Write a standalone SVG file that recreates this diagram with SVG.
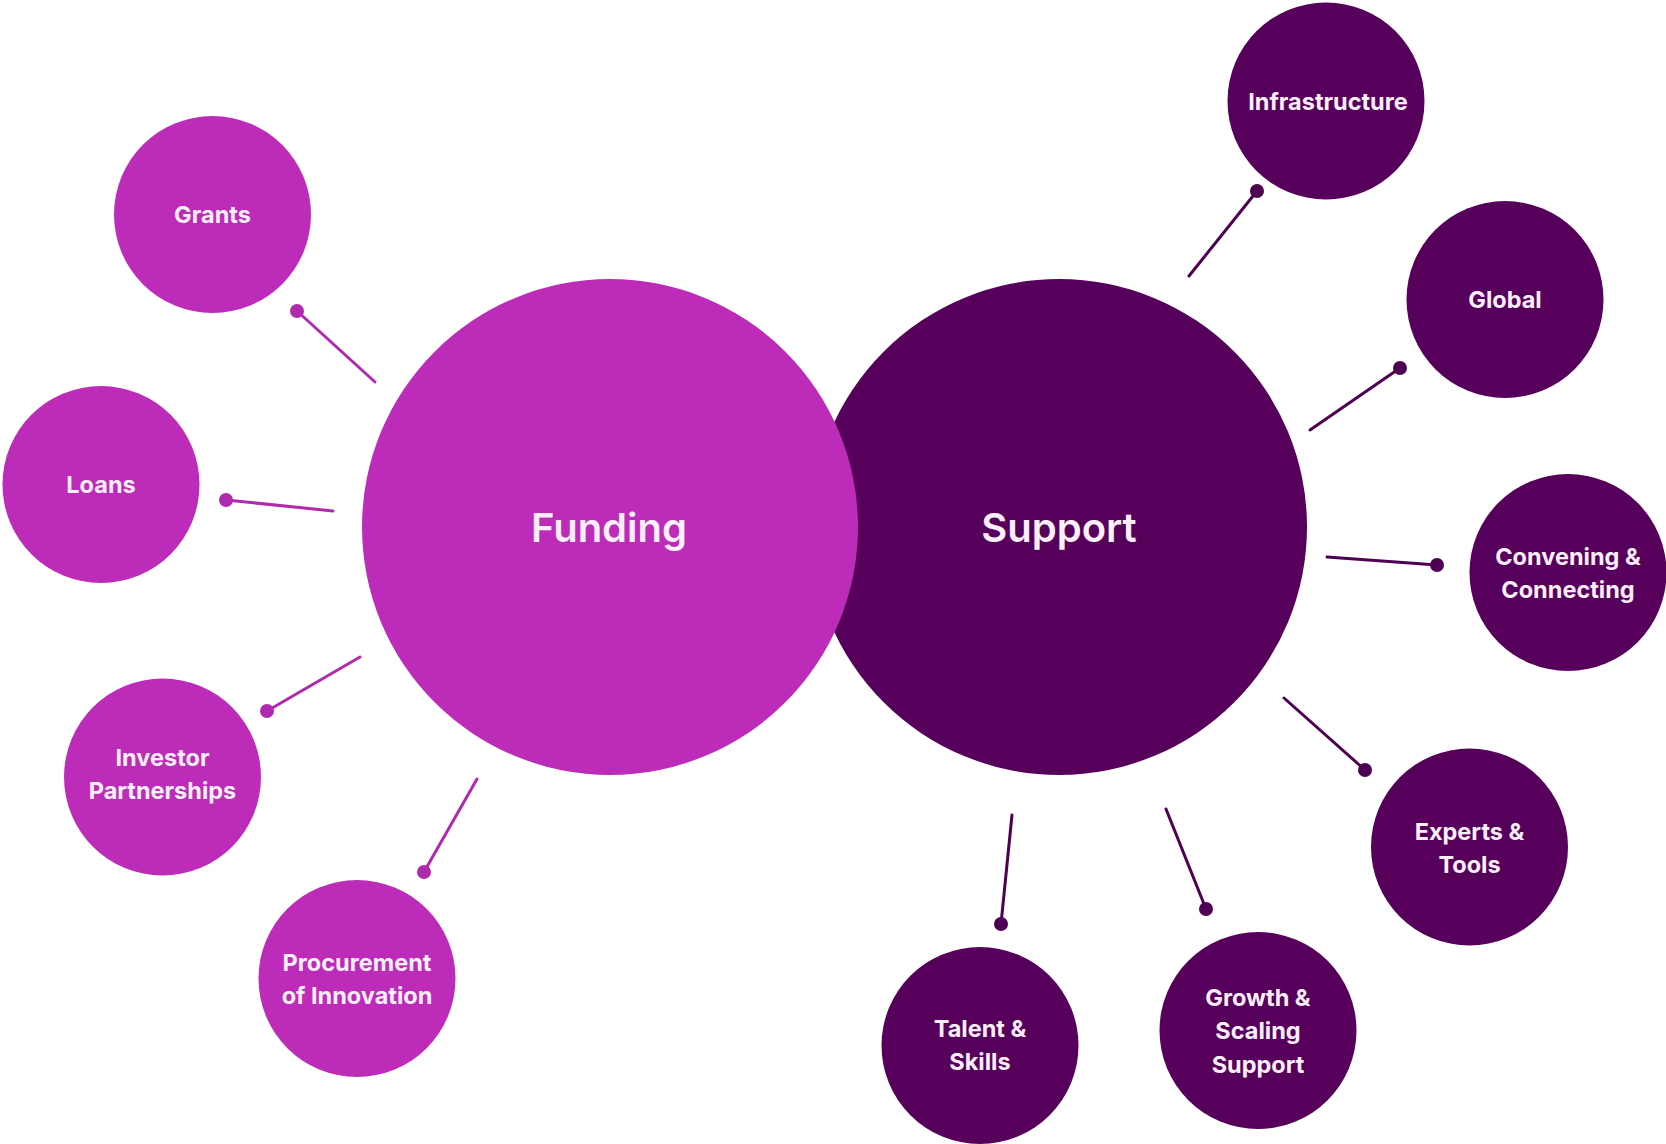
<svg xmlns="http://www.w3.org/2000/svg" width="1666" height="1144" viewBox="0 0 1666 1144">
<style>
.fund{fill:#BD2BB9}
.supp{fill:#57005B}
.lf{stroke:#B02AAE;stroke-width:3;stroke-linecap:round;fill:none}
.ls{stroke:#4E0052;stroke-width:3;stroke-linecap:round;fill:none}
.df{fill:#B02AAE}
.ds{fill:#4E0052}
text{font-family:Inter,"Noto Sans","Liberation Sans",sans-serif;fill:#FBEFFB;text-anchor:middle;font-weight:600}
.big{font-size:40px}
.sm{font-size:23.5px;font-weight:700}
</style>
<rect width="1666" height="1144" fill="#FFFFFF"/>
<g id="connectors">
<line class="lf" x1="375" y1="382" x2="297" y2="311"/><circle class="df" cx="297" cy="311" r="7"/>
<line class="lf" x1="333" y1="511" x2="226" y2="500"/><circle class="df" cx="226" cy="500" r="7"/>
<line class="lf" x1="360" y1="657" x2="267" y2="711"/><circle class="df" cx="267" cy="711" r="7"/>
<line class="lf" x1="477" y1="779" x2="424" y2="872"/><circle class="df" cx="424" cy="872" r="7"/>
<line class="ls" x1="1189" y1="276" x2="1257" y2="191"/><circle class="ds" cx="1257" cy="191" r="7"/>
<line class="ls" x1="1310" y1="430" x2="1400" y2="368"/><circle class="ds" cx="1400" cy="368" r="7"/>
<line class="ls" x1="1327" y1="557" x2="1437" y2="565"/><circle class="ds" cx="1437" cy="565" r="7"/>
<line class="ls" x1="1284" y1="698" x2="1365" y2="770"/><circle class="ds" cx="1365" cy="770" r="7"/>
<line class="ls" x1="1012" y1="815" x2="1001" y2="924"/><circle class="ds" cx="1001" cy="924" r="7"/>
<line class="ls" x1="1166" y1="809" x2="1206" y2="909"/><circle class="ds" cx="1206" cy="909" r="7"/>
</g>
<g id="support"><circle class="supp" cx="1059" cy="527" r="248"/><text class="big" x="1059" y="542">Support</text></g>
<g id="funding"><circle class="fund" cx="610" cy="527" r="248"/><text class="big" x="609" y="542">Funding</text></g>
<g id="grants"><circle class="fund" cx="212.5" cy="214.5" r="98.5"/><text class="sm" x="212.5" y="223">Grants</text></g>
<g id="loans"><circle class="fund" cx="101" cy="484.5" r="98.5"/><text class="sm" x="101" y="493">Loans</text></g>
<g id="investor"><circle class="fund" cx="162.5" cy="777" r="98.5"/><text class="sm" x="162.5" y="766">Investor</text><text class="sm" x="162.5" y="799">Partnerships</text></g>
<g id="procurement"><circle class="fund" cx="357" cy="978.5" r="98.5"/><text class="sm" x="357" y="971">Procurement</text><text class="sm" x="357" y="1004">of Innovation</text></g>
<g id="infrastructure"><circle class="supp" cx="1326" cy="101" r="98.5"/><text class="sm" x="1328" y="110">Infrastructure</text></g>
<g id="global"><circle class="supp" cx="1505" cy="299.5" r="98.5"/><text class="sm" x="1505" y="308">Global</text></g>
<g id="convening"><circle class="supp" cx="1568" cy="572.5" r="98.5"/><text class="sm" x="1568" y="565">Convening &amp;</text><text class="sm" x="1568" y="598">Connecting</text></g>
<g id="experts"><circle class="supp" cx="1469.5" cy="847" r="98.5"/><text class="sm" x="1469.5" y="840">Experts &amp;</text><text class="sm" x="1469.5" y="873">Tools</text></g>
<g id="growth"><circle class="supp" cx="1258" cy="1030.5" r="98.5"/><text class="sm" x="1258" y="1006">Growth &amp;</text><text class="sm" x="1258" y="1039">Scaling</text><text class="sm" x="1258" y="1073">Support</text></g>
<g id="talent"><circle class="supp" cx="980" cy="1045.5" r="98.5"/><text class="sm" x="980" y="1037">Talent &amp;</text><text class="sm" x="980" y="1070">Skills</text></g>
</svg>
